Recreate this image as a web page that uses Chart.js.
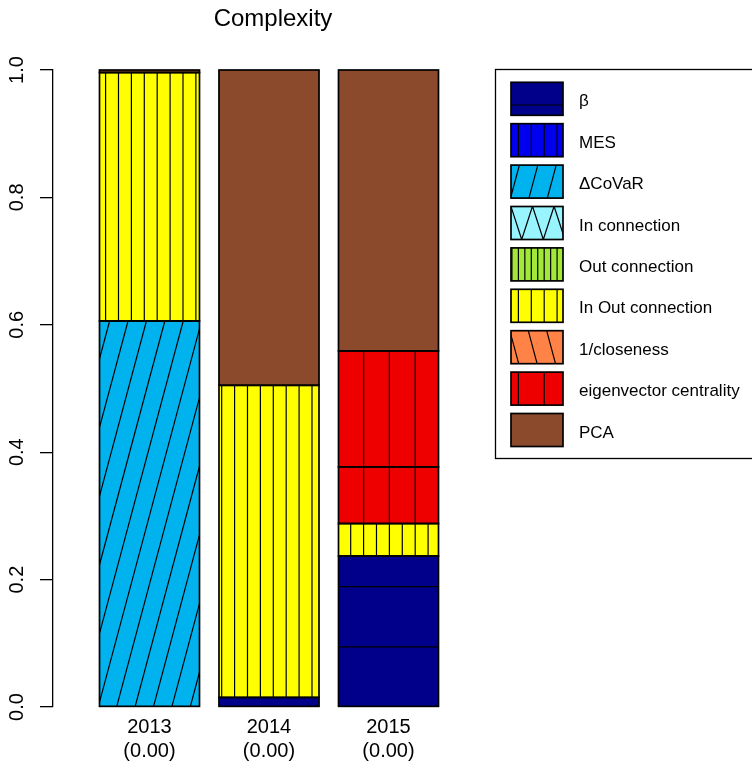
<!DOCTYPE html>
<html><head><meta charset="utf-8">
<script src="https://cdn.jsdelivr.net/npm/chart.js@4/dist/chart.umd.min.js"></script>
<style>html,body{margin:0;padding:0;background:#fff}#wrap{width:752px;height:764px;position:relative}</style>
</head><body><div id="wrap"><canvas id="c" width="752" height="764"></canvas></div>
<script>
// ---------- data ----------
const categories = ['2013', '2014', '2015'];
const subLabels = ['(0.00)', '(0.00)', '(0.00)'];
const yTickValues = [0, 0.2, 0.4, 0.6, 0.8, 1.0];
const yTickLabels = ['0.0', '0.2', '0.4', '0.6', '0.8', '1.0'];
const seriesNames = ['β', 'MES', 'ΔCoVaR', 'In connection', 'Out connection', 'In Out connection', '1/closeness', 'eigenvector centrality', 'PCA'];
const beta = [0, 0.015, 0.237];
const mes = [0, 0, 0];
const deltaCoVaR = [0.606, 0, 0];
const inConnection = [0, 0, 0];
const outConnection = [0, 0, 0];
const inOutConnection = [0.390, 0.490, 0.051];
const closeness = [0, 0, 0];
const eigenvector = [0, 0, 0.089];
const eigenvectorUpper = [0, 0, 0.182];
const pca = [0.004, 0.495, 0.441];

// ---------- styles ----------
const FONT = "'Liberation Sans', Arial, Helvetica, sans-serif";
const fills = ['#00008B', '#0000EE', '#00B2EE', '#98F5FF', '#A2E838', '#FFFF00', '#FF8247', '#EE0000', '#8B4A2B'];
const hatches = [
  [{angle: 0, step: 60.2, phase: 0}],
  [{angle: 90, step: 12.9, phase: 0}],
  [{angle: 75, step: 18.4, phase: 0}],
  [{angle: 72, step: 21.6, phase: 9.2}, {angle: 108, step: 21.6, phase: 10.6}],
  [{angle: 90, step: 6.45, phase: 0}],
  [{angle: 90, step: 12.9, phase: 0}],
  [{angle: 105, step: 18.4, phase: 15.7}],
  [{angle: 90, step: 25.8, phase: 0}],
  []
];
// stacking order bottom -> top: [values, style index]
const stackSeries = [
  [beta, 0], [mes, 1], [deltaCoVaR, 2], [inConnection, 3], [outConnection, 4],
  [inOutConnection, 5], [closeness, 6], [eigenvector, 7], [eigenvectorUpper, 7], [pca, 8]
];
const xMin = -0.8075, xMax = 2.8745;
const hatchOriginValue = -0.7 / 1.2;

const datasets = stackSeries.map(([vals, si]) => ({
  label: seriesNames[si],
  styleIndex: si,
  data: vals.map((v, i) => ({x: i, y: v})),
  backgroundColor: fills[si],
  borderWidth: 0,
  barThickness: 100
}));

function hatchRect(ctx, x1, y1, x2, y2, specs, X0, Y0) {
  if (!specs.length) return;
  ctx.save();
  ctx.beginPath(); ctx.rect(x1, y1, x2 - x1, y2 - y1); ctx.clip();
  ctx.strokeStyle = '#000'; ctx.lineWidth = 1.2;
  ctx.beginPath();
  for (const h of specs) {
    if (h.angle === 0) {
      const kmin = Math.floor((Y0 - h.phase - y2) / h.step) - 1;
      const kmax = Math.ceil((Y0 - h.phase - y1) / h.step) + 1;
      for (let k = kmin; k <= kmax; k++) {
        const y = Y0 - h.phase - k * h.step;
        ctx.moveTo(x1, y); ctx.lineTo(x2, y);
      }
    } else {
      const a = h.angle * Math.PI / 180;
      const cot = Math.cos(a) / Math.sin(a);
      const o1 = (Y0 - y1) * cot, o2 = (Y0 - y2) * cot;
      const lo = Math.min(o1, o2), hi = Math.max(o1, o2);
      const base = X0 + h.phase;
      const kmin = Math.floor((x1 - hi - base) / h.step) - 1;
      const kmax = Math.ceil((x2 - lo - base) / h.step) + 1;
      for (let k = kmin; k <= kmax; k++) {
        const xb = base + k * h.step;
        ctx.moveTo(xb + o1, y1); ctx.lineTo(xb + o2, y2);
      }
    }
  }
  ctx.stroke();
  ctx.restore();
}

const hatchPlugin = {
  id: 'hatchPlugin',
  afterDatasetsDraw(chart) {
    const ctx = chart.ctx;
    const X0 = chart.scales.x.getPixelForValue(hatchOriginValue);
    const Y0 = chart.scales.y.getPixelForValue(0);
    const rects = [];
    chart.data.datasets.forEach((ds, di) => {
      const meta = chart.getDatasetMeta(di);
      meta.data.forEach(el => {
        const p = el.getProps(['x', 'y', 'base', 'width'], true);
        const top = Math.min(p.y, p.base), bot = Math.max(p.y, p.base);
        if (bot - top < 0.3) return;
        const x1 = p.x - p.width / 2, x2 = p.x + p.width / 2;
        hatchRect(ctx, x1, top, x2, bot, hatches[ds.styleIndex], X0, Y0);
        rects.push([x1, top, x2, bot]);
      });
    });
    ctx.save();
    ctx.strokeStyle = '#000'; ctx.lineWidth = 1.7;
    rects.forEach(r => ctx.strokeRect(r[0], r[1], r[2] - r[0], r[3] - r[1]));
    ctx.restore();
  },
  afterDraw(chart) {
    const ctx = chart.ctx;
    const ys = chart.scales.y;
    const X0 = chart.scales.x.getPixelForValue(hatchOriginValue);
    const Y0 = ys.getPixelForValue(0);
    // rotated y tick labels
    ctx.save();
    ctx.fillStyle = '#000';
    ctx.font = '20px ' + FONT;
    ctx.textAlign = 'center'; ctx.textBaseline = 'alphabetic';
    yTickValues.forEach((v, i) => {
      const py = ys.getPixelForValue(v);
      ctx.save(); ctx.translate(23, py); ctx.rotate(-Math.PI / 2);
      ctx.fillText(yTickLabels[i], 0, 0);
      ctx.restore();
    });
    ctx.restore();
    // legend
    const L = {x: 495.5, y: 69.5, w: 290, h: 389, swX: 511, swW: 52, swY: 82.3, swH: 33, gap: 41.4, textX: 579};
    ctx.save();
    ctx.strokeStyle = '#000'; ctx.lineWidth = 1.3;
    ctx.strokeRect(L.x, L.y, L.w, L.h);
    seriesNames.forEach((name, i) => {
      const top = L.swY + i * L.gap;
      ctx.fillStyle = fills[i];
      ctx.fillRect(L.swX, top, L.swW, L.swH);
      hatchRect(ctx, L.swX, top, L.swX + L.swW, top + L.swH, hatches[i], X0, Y0);
      ctx.strokeStyle = '#000'; ctx.lineWidth = 1.7;
      ctx.strokeRect(L.swX, top, L.swW, L.swH);
      ctx.fillStyle = '#000';
      ctx.font = '17px ' + FONT;
      ctx.textAlign = 'left'; ctx.textBaseline = 'middle';
      ctx.fillText(name, L.textX, top + 19.5);
    });
    ctx.restore();
  }
};

new Chart(document.getElementById('c'), {
  type: 'bar',
  data: {datasets},
  options: {
    responsive: false,
    animation: false,
    layout: {padding: {left: 0, right: 259, top: 0, bottom: 0}},
    scales: {
      x: {
        type: 'linear', min: xMin, max: xMax, stacked: true, offset: false,
        grid: {display: false, drawTicks: false, offset: false},
        border: {display: false},
        afterBuildTicks: axis => { axis.ticks = categories.map((c, i) => ({value: i})); },
        afterFit: axis => { axis.height = 57; },
        ticks: {
          autoSkip: false, maxRotation: 0, minRotation: 0, padding: 8, color: '#000',
          font: {family: FONT, size: 20, lineHeight: 1.2},
          callback: v => [categories[v], subLabels[v]]
        }
      },
      y: {
        type: 'linear', min: 0, max: 1, stacked: true,
        afterFit: axis => { axis.width = 53; },
        grid: {drawOnChartArea: false, drawTicks: true, tickLength: 13, color: '#000', lineWidth: 1.3},
        border: {display: true, color: '#000', width: 1.3},
        ticks: {display: false, stepSize: 0.2}
      }
    },
    plugins: {
      legend: {display: false},
      tooltip: {enabled: false},
      title: {
        display: true, text: 'Complexity', fullSize: false, color: '#000',
        font: {family: FONT, size: 24, weight: 'normal', lineHeight: 1.2},
        padding: {top: 5, bottom: 36.2}
      }
    }
  },
  plugins: [hatchPlugin]
});
</script>
</body></html>
